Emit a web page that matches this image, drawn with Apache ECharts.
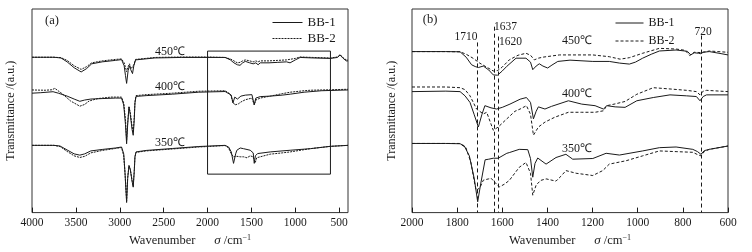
<!DOCTYPE html>
<html>
<head>
<meta charset="utf-8">
<script src="https://cdn.jsdelivr.net/npm/echarts@6/dist/echarts.min.js"></script>
<style>
  html, body { margin: 0; padding: 0; background: #fff; }
  #chart { width: 752px; height: 252px; }
</style>
</head>
<body>
<div id="chart"></div>
<script>
// 数据: [波数, 透过率(a.u., 含偏移)]
const ticksA = [4000, 3500, 3000, 2500, 2000, 1500, 1000, 500];
const ticksB = [2000, 1800, 1600, 1400, 1200, 1000, 800, 600];
const legendNames = ['BB-1', 'BB-2'];
const tempLabels = ['450℃', '400℃', '350℃'];
const peakLines = [[1710, 173], [1637, 189], [1620, 179], [720, 180]];
const zoomBox = [[2000, 165], [600, 39.3]];

// (a) 4000-400
const a450_bb1 = [[4000,158.7],[3750,158.7],[3670,158],[3600,154],[3520,148],[3440,143.7],[3380,147],[3320,152],[3200,154],[3050,155.5],[2980,156.3],[2950,150],[2935,140],[2922,132],[2905,145],[2890,150],[2875,146],[2855,142],[2840,150],[2820,156],[2800,157.5],[2600,158],[2300,158.5],[2000,158.5],[1800,158.5],[1740,156],[1700,153],[1660,151],[1630,150.5],[1600,153],[1570,154.5],[1520,153],[1480,152],[1450,153],[1424,151],[1400,153],[1300,153],[1200,153.5],[1100,154],[1060,153],[1000,156],[945,158.5],[800,158],[600,157.5],[520,158.5],[490,161],[460,158],[420,155],[400,155]];
const a450_bb2 = [[4000,158.7],[3750,158.7],[3670,158.3],[3600,155.5],[3520,150],[3440,146.3],[3380,149],[3320,153],[3200,155],[3050,156.5],[2980,157],[2950,153],[2922,144],[2905,149],[2890,152],[2870,147],[2855,145],[2840,151],[2820,156.5],[2800,158],[2600,158.5],[2300,159],[2000,159],[1800,158.5],[1740,157],[1700,155],[1660,153],[1630,153.5],[1600,155],[1570,156],[1520,155],[1480,154],[1450,155],[1424,154],[1400,155],[1300,155],[1200,155.5],[1100,156],[1000,157.5],[945,159],[800,158.5],[600,158],[520,159],[490,161.5],[460,158.5],[420,156],[400,156]];
const a400_bb1 = [[4000,122],[3900,122.5],[3760,123.5],[3700,122],[3600,119],[3520,116],[3455,113.7],[3400,115],[3330,116],[3200,116.5],[3050,117],[2980,117],[2955,110],[2935,90],[2922,70.3],[2910,90],[2895,108],[2880,100],[2860,85],[2847,79],[2835,95],[2827,112],[2815,118.7],[2700,119.5],[2400,121],[2100,123],[1800,123.7],[1730,120],[1711,112],[1690,118],[1660,116],[1620,119],[1570,120],[1495,120.5],[1468,110.3],[1450,117],[1400,118.5],[1286,119],[1150,120],[1058,121],[900,123],[700,124.5],[400,125.3]];
const a400_bb2 = [[4000,125.3],[3850,125],[3770,125.5],[3741,127],[3720,125],[3650,121],[3560,114],[3455,108.7],[3400,110.5],[3350,114],[3250,116.5],[3100,118],[2980,118],[2955,112],[2935,95],[2922,74],[2910,92],[2895,108],[2880,102],[2860,88],[2847,82],[2835,98],[2827,113],[2815,119.5],[2700,120.5],[2400,122],[2100,124],[1800,124.5],[1740,121],[1711,113],[1690,110],[1650,111],[1620,113],[1570,115.3],[1495,117],[1468,110],[1450,115],[1400,117],[1286,119],[1150,121.5],[1058,123],[900,124.5],[830,125],[600,125.5],[400,126]];
const a350_bb1 = [[4000,68.7],[3750,68.7],[3680,68],[3600,64],[3520,60],[3455,58.7],[3400,60],[3330,63],[3200,64.5],[3050,66],[2980,67],[2955,60],[2940,40],[2922,10.3],[2910,35],[2895,48],[2880,44],[2860,32],[2847,26],[2835,42],[2827,57],[2815,62],[2700,63.5],[2400,65.5],[2100,67.5],[1800,68.7],[1760,67],[1730,62],[1704,50.3],[1680,60],[1666,63.7],[1628,66],[1590,65.3],[1514,63.7],[1480,61],[1468,50.3],[1455,58],[1430,60.3],[1286,62],[1058,63.7],[830,65.3],[600,67.7],[400,68.7]];
const a350_bb2 = [[4000,68.7],[3750,68.7],[3680,67.5],[3600,62.5],[3520,58],[3455,56.3],[3400,57.5],[3330,61],[3200,63.5],[3050,65.5],[2980,66.5],[2955,58],[2940,40],[2922,12],[2910,36],[2895,48],[2880,44],[2860,33],[2847,27],[2835,43],[2827,57],[2815,61.5],[2700,63],[2400,65],[2100,67],[1800,68.5],[1760,66],[1730,60],[1704,57],[1666,57.5],[1628,57],[1590,57],[1551,56],[1514,58],[1480,57],[1457,51],[1440,56],[1400,57],[1286,59.7],[1150,61],[1058,62],[830,65.3],[600,67.7],[400,68.7]];

// (b) 2000-600
const b450_bb1 = [[2000,163.7],[1850,163.7],[1787,163.5],[1760,158],[1736,150.3],[1720,148.5],[1706,147.5],[1684,149],[1660,145],[1640,140],[1632,139.7],[1621,139.7],[1600,144],[1580,148.7],[1539,157],[1495,157],[1475,153],[1465,145.3],[1450,149],[1436,151.3],[1420,149],[1399,147],[1380,150],[1354,153.7],[1300,155],[1199,153.7],[1126,153.7],[1080,152],[1037,151],[1010,153],[978,157],[940,161],[904,164.3],[830,165.3],[780,164],[765,160.3],[750,162.5],[730,162],[720,161.5],[710,163],[683,163.7],[640,162],[600,160.3]];
const b450_bb2 = [[2000,163.7],[1850,163.7],[1787,163.5],[1760,161],[1730,157],[1700,152],[1670,148],[1640,144],[1632,143.7],[1620,144.5],[1600,148],[1569,155.3],[1530,160],[1495,162],[1475,160],[1458,155.3],[1440,157],[1421,158],[1347,160.3],[1199,160.3],[1126,158.5],[1078,156],[1037,157.5],[978,162],[904,167],[830,166.3],[790,165],[770,159.7],[750,163],[720,162.7],[700,163.5],[683,164.3],[600,163]];
const b400_bb1 = [[2000,123],[1850,123.5],[1787,123],[1765,118.7],[1743,112],[1725,100],[1706,87],[1690,100],[1677,108.7],[1650,106.5],[1625,105.3],[1600,107],[1566,110.3],[1521,115.3],[1493,117],[1475,112],[1462,95.3],[1450,103],[1440,107.5],[1411,105.3],[1382,108],[1307,113.7],[1248,110.3],[1189,108.7],[1152,105.3],[1137,108.7],[1100,107.5],[1056,107],[1004,113.7],[931,117],[857,119.7],[783,118.7],[740,118],[724,113.7],[710,118],[695,119.7],[600,119.7]];
const b400_bb2 = [[2000,127.7],[1850,127.7],[1787,127],[1765,125],[1743,118.7],[1714,105.3],[1684,100.3],[1669,102],[1650,90],[1640,83.7],[1618,87],[1580,95.3],[1544,103],[1521,105.3],[1493,108.7],[1475,100],[1462,78.7],[1440,87],[1411,92],[1367,97],[1307,102],[1248,102],[1189,102],[1152,103.5],[1137,108.7],[1100,110.5],[1056,113],[1004,120.3],[931,127],[857,125.7],[783,124.3],[740,123],[724,119.7],[710,123.5],[695,124.3],[600,123]];
const b350_bb1 = [[2000,70.3],[1850,70.3],[1787,70],[1769,68],[1746,57.7],[1724,34.3],[1709,11],[1695,30],[1676,53.7],[1660,54.3],[1640,55.3],[1618,55.3],[1580,60.3],[1569,61],[1525,64.3],[1487,64],[1475,55],[1465,36],[1455,50],[1443,55.5],[1406,49.3],[1362,56],[1318,59.3],[1288,54.3],[1199,55],[1140,60.3],[1081,58.5],[978,62.7],[904,66],[830,66.7],[756,64.3],[735,62],[720,59.3],[705,63],[683,64.3],[600,67.7]];
const b350_bb2 = [[2000,70.3],[1850,70.3],[1790,70.3],[1761,66],[1739,51],[1725,33],[1716,22.7],[1700,25],[1684,33],[1660,34.3],[1650,35],[1630,30],[1613,26],[1590,29],[1569,32.7],[1525,46],[1495,51],[1475,40],[1465,17.7],[1450,28],[1430,32.7],[1406,34.3],[1362,32],[1340,37],[1318,42.7],[1273,40],[1199,37.7],[1155,42.7],[1126,49.3],[1052,52.7],[978,57.7],[904,62.7],[830,62],[756,61.3],[735,59],[720,57.7],[705,62],[683,64.3],[600,67.7]];

const FONT = 'Liberation Serif, Times New Roman, serif';
const INK = '#1a1a1a';

const chart = echarts.init(document.getElementById('chart'));

function line(name, data, idx, dash) {
  return {
    type: 'line', name: name, data: data,
    xAxisIndex: idx, yAxisIndex: idx,
    symbol: 'none', showSymbol: false, silent: true,
    itemStyle: { color: INK },
    lineStyle: { color: INK, width: 1, type: dash || 'solid' }
  };
}

function xAxisOf(idx, min, max, ticks) {
  return {
    type: 'value', gridIndex: idx, inverse: true, min: min, max: max,
    axisLine: { show: false },
    axisTick: { show: true, inside: true, length: 5, lineStyle: { color: INK }, customValues: ticks },
    axisLabel: { color: INK, fontFamily: FONT, fontSize: 11.5, margin: 4, customValues: ticks, formatter: v => String(v) },
    splitLine: { show: false },
    name: 'Wavenumber      {i|σ} /cm{s|−1}',
    nameLocation: 'middle', nameGap: 15,
    nameTextStyle: {
      color: INK, fontFamily: FONT, fontSize: 12.5,
      rich: {
        i: { fontFamily: FONT, fontStyle: 'italic', fontSize: 13, color: INK },
        s: { fontFamily: FONT, fontSize: 8, color: INK, verticalAlign: 'top', padding: [0, 0, 6, 0] }
      }
    }
  };
}

function yAxisOf(idx, max, gap) {
  return {
    type: 'value', gridIndex: idx, min: 0, max: max,
    axisLine: { show: false }, axisTick: { show: false }, axisLabel: { show: false },
    splitLine: { show: false },
    name: 'Transmittance /(a.u.)', nameLocation: 'middle', nameGap: gap,
    nameTextStyle: { color: INK, fontFamily: FONT, fontSize: 12 }
  };
}

function text(str, x, y, opt) {
  return {
    type: 'text', x: x, y: y, silent: true,
    style: Object.assign({ text: str, font: '12px ' + FONT, fill: INK, align: 'center', verticalAlign: 'middle' }, opt || {})
  };
}

const seriesA = [
  line('BB-1', a450_bb1, 0), line('BB-2', a450_bb2, 0, [2, 1]),
  line('BB-1', a400_bb1, 0), line('BB-2', a400_bb2, 0, [2, 1]),
  line('BB-1', a350_bb1, 0), line('BB-2', a350_bb2, 0, [2, 1])
];
seriesA[0].markArea = {
  silent: true,
  itemStyle: { color: 'rgba(0,0,0,0)', borderColor: INK, borderWidth: 1 },
  data: [[{ coord: zoomBox[0] }, { coord: zoomBox[1] }]]
};

const seriesB = [
  line('BB-1', b450_bb1, 1), line('BB-2', b450_bb2, 1, [3, 2]),
  line('BB-1', b400_bb1, 1), line('BB-2', b400_bb2, 1, [3, 2]),
  line('BB-1', b350_bb1, 1), line('BB-2', b350_bb2, 1, [3, 2])
];
seriesB[0].markLine = {
  silent: true, symbol: 'none', label: { show: false },
  lineStyle: { color: INK, width: 1, type: [4, 3] },
  data: peakLines.map(p => [{ coord: [p[0], p[1]] }, { coord: [p[0], 0] }])
};

const legendBase = {
  orient: 'vertical', itemHeight: 10, padding: 0, selectedMode: false,
  itemStyle: { opacity: 0 },
  lineStyle: { width: 1, color: INK }
};

chart.setOption({
  animation: false,
  backgroundColor: '#fff',
  grid: [
    { left: 32, top: 9, width: 316, height: 208, show: true, borderColor: '#333', borderWidth: 1, backgroundColor: 'transparent' },
    { left: 412, top: 9, width: 316, height: 207, show: true, borderColor: '#333', borderWidth: 1, backgroundColor: 'transparent' }
  ],
  xAxis: [xAxisOf(0, 400, 4000, ticksA), xAxisOf(1, 600, 2000, ticksB)],
  yAxis: [yAxisOf(0, 208, 15), yAxisOf(1, 207, 14)],
  legend: [
    Object.assign({}, legendBase, {
      left: 272, top: 16, itemWidth: 30, itemGap: 3,
      textStyle: { color: INK, fontFamily: FONT, fontSize: 13 },
      data: [{ name: legendNames[0] }, { name: legendNames[1], lineStyle: { type: [2, 1], width: 1 } }]
    }),
    Object.assign({}, legendBase, {
      left: 615, top: 17, itemWidth: 28, itemGap: 6,
      textStyle: { color: INK, fontFamily: FONT, fontSize: 12 },
      data: [{ name: legendNames[0] }, { name: legendNames[1], lineStyle: { type: [3, 2], width: 1 } }]
    })
  ],
  graphic: [
    text('(a)', 52, 21, { font: '12.5px ' + FONT }),
    text('(b)', 430, 20, { font: '12.5px ' + FONT }),
    text(tempLabels[0], 170, 52),
    text(tempLabels[1], 170, 87),
    text(tempLabels[2], 170, 143),
    text(tempLabels[0], 577, 41),
    text(tempLabels[1], 577, 94),
    text(tempLabels[2], 577, 149),
    text('1710', 466, 37, { font: '11.5px ' + FONT }),
    text('1637', 494, 27, { font: '11.5px ' + FONT, align: 'left' }),
    text('1620', 499, 42, { font: '11.5px ' + FONT, align: 'left' }),
    text('720', 703, 32, { font: '11.5px ' + FONT })
  ],
  series: seriesA.concat(seriesB)
});
</script>
</body>
</html>
